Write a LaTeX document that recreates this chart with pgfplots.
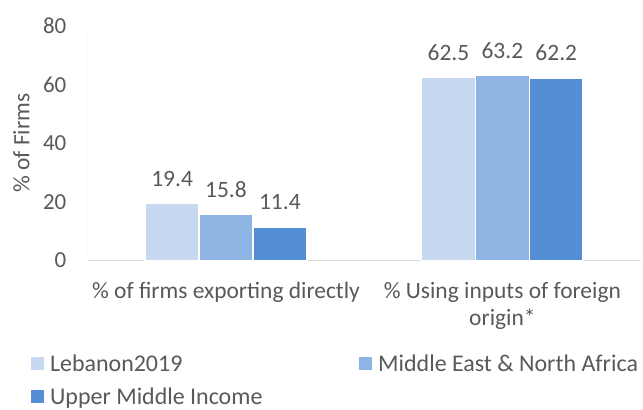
\documentclass[border=0pt]{standalone}
\usepackage{pgfplots}
\pgfplotsset{compat=1.18}
\usepackage{fontspec}
\setmainfont{Carlito}
\definecolor{lebanon}{HTML}{C6D9F1}
\definecolor{mena}{HTML}{8EB4E3}
\definecolor{umi}{HTML}{558ED5}
\definecolor{txt}{HTML}{595959}
\begin{document}
\begin{tikzpicture}
\begin{axis}[
    scale only axis,
    width=554bp, height=235bp,
    ybar=0pt, bar width=54bp,
    xmin=-0.5, xmax=1.5,
    ymin=0, ymax=80,
    ytick={0,20,40,60,80},
    xtick={0,1},
    xticklabels={\% of firms exporting directly, {\% Using inputs of foreign\\origin*}},
    x tick label style={font=\fontsize{23.5bp}{28bp}\selectfont, text=txt, align=center, yshift=-18bp},
    y tick label style={font=\fontsize{23bp}{26bp}\selectfont, text=txt, xshift=-18bp},
    /pgf/number format/assume math mode=true,
    major tick length=0pt,
    axis line style={draw=none},
    axis x line*=bottom, axis y line*=left,
    ylabel={\% of Firms},
    every axis y label/.style={at={(axis description cs:-0.12,0.5)}, rotate=90, anchor=center,
        font=\fontsize{23.5bp}{26bp}\selectfont, text=txt},
    nodes near coords,
    every node near coord/.append style={font=\fontsize{23.5bp}{26bp}\selectfont, text=txt, anchor=center, yshift=25bp,
        /pgf/number format/.cd, fixed, fixed zerofill, precision=1},
    legend columns=2,
    legend cell align=left,
    legend style={draw=none, at={(0,0)}, anchor=north west, xshift=-60bp, yshift=-90bp,
        font=\fontsize{24bp}{26bp}\selectfont, text=txt,
        /tikz/every odd column/.append style={column sep=4bp},
        /tikz/every even column/.append style={column sep=95bp},
        row sep=11bp},
    legend image code/.code={\fill[#1, draw=none] (0bp,-6.5bp) rectangle (13bp,6.5bp);},
]
\draw[color=black!15, line width=1bp] (rel axis cs:0,0) -- (rel axis cs:1,0);
\draw[color=blue!8!gray!20, line width=1bp] (rel axis cs:0,0) -- (rel axis cs:0,1);
\addplot[fill=lebanon, draw=white, line width=1.5bp] coordinates {(0,19.4) (1,62.5)};
\addlegendentry{Lebanon2019}
\addplot[fill=mena, draw=white, line width=1.5bp] coordinates {(0,15.8) (1,63.2)};
\addlegendentry{Middle East \& North Africa}
\addplot[fill=umi, draw=white, line width=1.5bp] coordinates {(0,11.4) (1,62.2)};
\addlegendentry{Upper Middle Income}
\end{axis}
\path[use as bounding box] (current axis.south west) ++(-88bp,-147bp) rectangle ([shift={(1bp,26bp)}]current axis.north east);
\end{tikzpicture}
\end{document}
